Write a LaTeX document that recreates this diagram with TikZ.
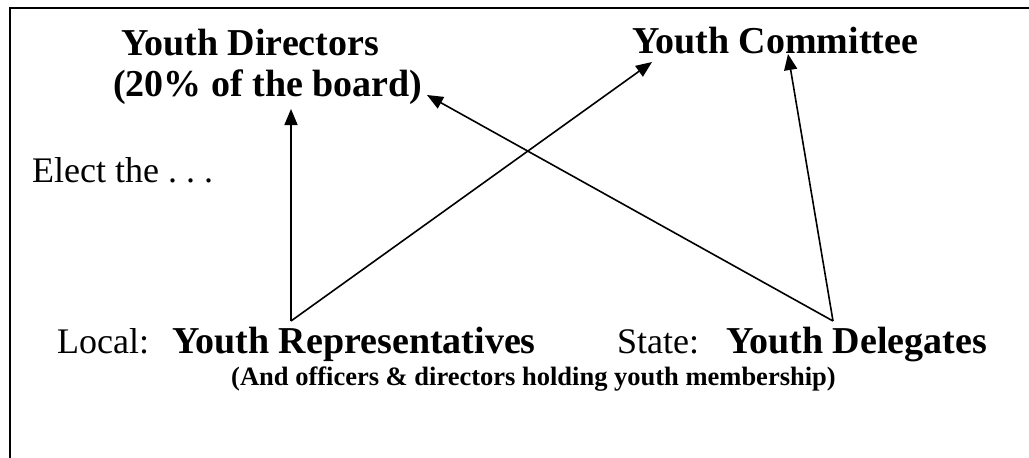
\documentclass[tikz,border=0pt]{standalone}
\usepackage{fontspec}
\setmainfont{Liberation Serif}
\usetikzlibrary{arrows.meta}
\frenchspacing
\tikzset{
  big/.style={inner sep=0pt, anchor=base west, font=\fontsize{38}{45}\selectfont\bfseries},
  plain/.style={inner sep=0pt, anchor=base west, font=\fontsize{36}{43}\selectfont},
  small/.style={inner sep=0pt, anchor=base west, font=\fontsize{26.5}{32}\selectfont\bfseries},
  link/.style={line width=1.6pt, -{Triangle[length=16pt,width=13pt]}},
  frame/.style={line width=2.5pt}
}
\begin{document}
\begin{tikzpicture}[x=1pt,y=-1pt]
\useasboundingbox (0,0) rectangle (1029,458);
\draw[frame] (10,458) |- (1029,8);
% texts
\node[big] (dirA) at (121,55) {Youth Directors};
\node[big] (dirB) at (113,96) {(20\% of the board)};
\node[big] (comm) at (632,53) {Youth Committee};
\node[plain] (elect) at (32,182) {Elect the . . .};
\node[plain] (local) at (57,353) {Local:};
\node[big] (rep) at (172,353) {Youth Representatives};
\node[plain] (state) at (617,353) {State:};
\node[big] (del) at (726,353) {Youth Delegates};
\node[small] (note) at (231,385) {(And officers \& directors holding youth membership)};
% connector ends
\coordinate (vL) at (291,321);
\coordinate (vR) at (833,321);
\coordinate (tDir) at (291,109);
\coordinate (tDirB) at (427,95);
\coordinate (tCom) at (652,62);
\coordinate (tComB) at (788,54);
% arrows
\draw[link] (vL) -- (tDir);
\draw[link] (vL) -- (tCom);
\draw[link] (vR) -- (tDirB);
\draw[link] (vR) -- (tComB);
\end{tikzpicture}
\end{document}
